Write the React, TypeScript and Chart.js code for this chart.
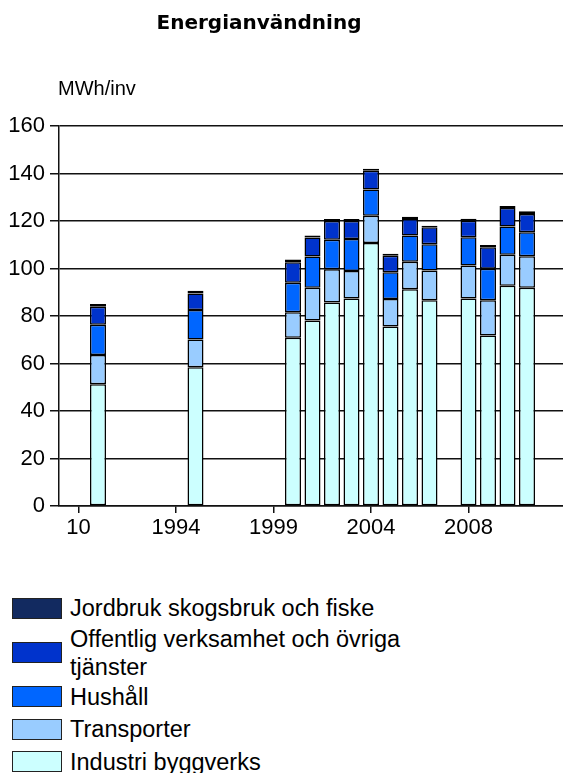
import React, { useEffect, useRef } from 'react';
import { Chart, registerables } from 'chart.js';

Chart.register(...registerables);

const chartTitle = 'Energianvändning';
const unitLabel = 'MWh/inv';

// x slots (category axis); '' = empty slot
const categories = ['', '10', '1990', '1991', '1992', '1993', '1994', '1995', '1996', '1997', '1998', '1999', '2000', '2001', '2002', '2003', '2004', '2005', '2006', '2007', '', '2008', '2009', '2010', '2011', '2012', '2013'];
const tickLabels = ['10', '1994', '1999', '2004', '2008'];

const years = ['1990', '1995', '2000', '2001', '2002', '2003', '2004', '2005', '2006', '2007', '2008', '2009', '2010', '2011'];
const industri = [51.3, 58.4, 70.8, 78.1, 85.7, 87.4, 110.7, 75.6, 91.3, 86.6, 87.4, 71.8, 92.7, 91.9];
const transporter = [12.3, 11.7, 10.8, 13.8, 14.0, 11.6, 11.5, 11.6, 11.5, 12.6, 13.9, 14.8, 13.1, 13.3];
const hushall = [12.7, 12.4, 12.4, 13.2, 12.4, 13.4, 11.1, 11.2, 11.1, 11.0, 11.9, 13.3, 11.9, 10.1];
const offentlig = [7.6, 7.0, 8.6, 8.0, 7.9, 7.6, 7.9, 7.0, 6.9, 7.2, 6.9, 9.1, 7.8, 7.7];
const jordbruk = [1.2, 1.1, 1.2, 0.8, 0.8, 0.8, 0.8, 0.8, 1.0, 0.6, 0.8, 0.9, 0.8, 1.1];

// stacking order bottom -> top
const seriesNames = ['Industri byggverks', 'Transporter', 'Hushåll', 'Offentlig verksamhet och övriga tjänster', 'Jordbruk skogsbruk och fiske'];
const seriesColors = ['#CCFFFF', '#99CCFF', '#0066FF', '#0033CC', '#122A60'];
const seriesValues = [industri, transporter, hushall, offentlig, jordbruk];

const yMin = 0;
const yMax = 160;
const yStep = 20;

const sansFont = '"Liberation Sans", Arial, sans-serif';

export default function App() {
  const ref = useRef<HTMLCanvasElement>(null);

  useEffect(() => {
    const align = (vals: number[]) =>
      categories.map((c) => {
        const i = years.indexOf(c);
        return i >= 0 ? vals[i] : null;
      });
    const chart = new Chart(ref.current as HTMLCanvasElement, {
      type: 'bar',
      data: {
        labels: categories,
        datasets: seriesNames.map((name, k) => ({
          label: name,
          data: align(seriesValues[k]),
          backgroundColor: seriesColors[k],
          borderColor: '#000',
          borderWidth: 1.5,
          borderSkipped: false,
          categoryPercentage: 0.82,
          barPercentage: 1,
        })),
      },
      options: {
        responsive: false,
        animation: false,
        events: [],
        layout: { padding: { top: 126, left: 0, right: 0, bottom: 0 } },
        plugins: {
          legend: { display: false },
          title: { display: false },
          tooltip: { enabled: false },
        },
        scales: {
          x: {
            stacked: true,
            offset: false,
            grid: { display: true, offset: false, drawOnChartArea: false, drawTicks: true, tickLength: 7, color: '#111', lineWidth: 1.5 },
            border: { display: true, color: '#111', width: 1.5 },
            ticks: {
              autoSkip: false,
              maxRotation: 0,
              minRotation: 0,
              padding: 2,
              color: '#000',
              font: { family: sansFont, size: 22 },
            },
            afterBuildTicks: (axis: any) => {
              axis.ticks = axis.ticks.filter((t: any) => tickLabels.includes(categories[t.value]));
            },
            afterFit: (s: any) => {
              s.height = 39;
            },
          },
          y: {
            stacked: true,
            min: yMin,
            max: yMax,
            ticks: { stepSize: yStep, padding: 5, color: '#000', font: { family: sansFont, size: 22 } },
            grid: { color: '#111', lineWidth: 1.5, tickLength: 9 },
            border: { display: true, color: '#111', width: 1.5 },
            afterFit: (s: any) => {
              s.width = 59;
            },
          },
        },
      },
    } as any);
    return () => chart.destroy();
  }, []);

  const legendItems = seriesNames.map((n, k) => ({ name: n, color: seriesColors[k] })).reverse();

  return (
    <div style={{ position: 'absolute', left: 0, top: 0, width: 563, height: 773, overflow: 'hidden', background: '#fff' }}>
      <canvas ref={ref} width={566} height={545} style={{ position: 'absolute', left: 0, top: 0, width: 566, height: 545 }} />
      <div
        style={{
          position: 'absolute',
          left: 0,
          top: 10,
          width: 518,
          textAlign: 'center',
          font: 'bold 20px "DejaVu Sans", sans-serif',
          lineHeight: '24px',
          color: '#000',
        }}
      >
        {chartTitle}
      </div>
      <div
        style={{
          position: 'absolute',
          left: 58,
          top: 78,
          font: `20px ${sansFont}`,
          lineHeight: '20px',
          color: '#000',
        }}
      >
        {unitLabel}
      </div>
      <div style={{ position: 'absolute', left: 12, top: 592, display: 'flex', flexDirection: 'column' }}>
        {legendItems.map((it) => (
          <div key={it.name} style={{ display: 'flex', alignItems: 'center', minHeight: 32.5 }}>
            <div
              style={{
                width: 50,
                height: 21,
                boxSizing: 'border-box',
                border: '1.5px solid #222',
                background: it.color,
                marginRight: 8,
                flex: '0 0 auto',
              }}
            />
            <div style={{ font: `23.5px ${sansFont}`, lineHeight: '28px', color: '#000', width: 345 }}>{it.name}</div>
          </div>
        ))}
      </div>
    </div>
  );
}
